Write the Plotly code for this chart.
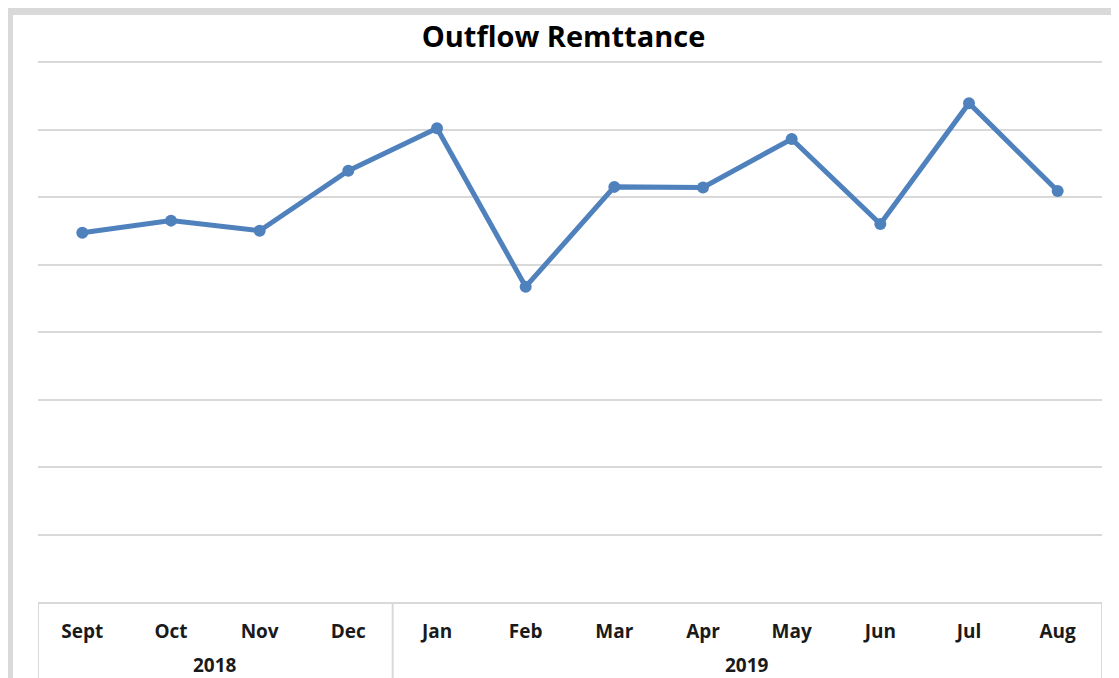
import plotly.graph_objects as go

months = ["Sept", "Oct", "Nov", "Dec", "Jan", "Feb", "Mar", "Apr", "May", "Jun", "Jul", "Aug"]
year_labels = ["2018", "2019"]
year_counts = [4, 8]
values = [54.7, 56.5, 55.0, 63.9, 70.2, 46.7, 61.5, 61.4, 68.6, 56.0, 73.9, 60.9]

fig = go.Figure()
fig.add_trace(go.Scatter(
    x=months, y=values, mode="lines+markers",
    line=dict(color="#4F81BD", width=5),
    marker=dict(color="#4F81BD", size=12),
    showlegend=False, hoverinfo="skip",
))

GRID = "#d9d9d9"
shapes = [
    dict(type="line", xref="paper", yref="paper", x0=-0.0263, x1=-0.0263, y0=1.09, y1=-0.2,
         line=dict(color=GRID, width=6)),
    dict(type="line", xref="paper", yref="paper", x0=-0.029, x1=1.05, y0=1.0924, y1=1.0924,
         line=dict(color=GRID, width=8)),
]
annotations = []
start = 0
bounds = [-0.5]
for lab, n in zip(year_labels, year_counts):
    mid = start + (n - 1) / 2
    annotations.append(dict(text=lab, x=mid, xref="x", y=-0.1165, yref="paper",
                            xanchor="center", yanchor="middle", showarrow=False,
                            font=dict(family="Open Sans", size=19, color="#1a1a1a", weight="bold")))
    start += n
    bounds.append(start - 0.5)
for b in bounds:
    shapes.append(dict(type="line", xref="x", yref="paper", x0=b, x1=b, y0=0, y1=-0.2,
                       line=dict(color=GRID, width=2)))

fig.update_layout(
    width=1111, height=670,
    margin=dict(l=30, r=17, t=53, b=76),
    paper_bgcolor="white", plot_bgcolor="white",
    title=dict(text="Outflow Remttance", x=0.5, xanchor="center", y=1 - 29 / 670, yanchor="middle",
               font=dict(family="Open Sans", size=29, color="#000000", weight="bold")),
    xaxis=dict(
        type="category", showgrid=False, showline=True, linecolor=GRID, linewidth=2,
        ticks="", ticklabelstandoff=11,
        tickfont=dict(family="Open Sans", size=19, color="#1a1a1a", weight="bold"),
        range=[-0.5, 11.5], zeroline=False,
    ),
    yaxis=dict(
        range=[0, 80.15], tickvals=[10, 20, 30, 40, 50, 60, 70, 80], showticklabels=False, showgrid=True,
        gridcolor=GRID, gridwidth=2, zeroline=False, showline=False, ticks="",
    ),
    shapes=shapes,
    annotations=annotations,
)

fig.write_html("out.html")
